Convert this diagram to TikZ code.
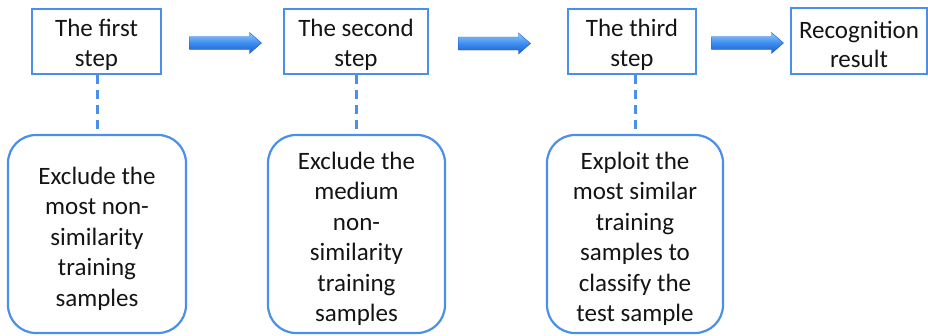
\documentclass[tikz,border=0pt]{standalone}
\usepackage{fontspec}
\setmainfont{Carlito}
\definecolor{bblue}{HTML}{4A8FEA}
\definecolor{alight}{HTML}{8CCBFF}
\definecolor{amid}{HTML}{3D8DF0}
\definecolor{adark}{HTML}{1F5CCC}
\definecolor{txt}{HTML}{141414}
\newcommand\topstrutA{\rule{0pt}{24pt}}
\newcommand\topstrutB{\rule{0pt}{27pt}}
\tikzset{
  x=1pt, y=-1pt,
  stepbox/.style={draw=bblue, line width=1.8pt, rectangle, align=center, inner sep=0pt,
     font=\fontsize{25}{29.5}\selectfont, text=txt},
  descbox/.style={draw=bblue, line width=2.2pt, rectangle, rounded corners=28pt, align=center,
     inner sep=0pt, minimum height=198pt, font=\fontsize{25}{30.5}\selectfont, text=txt},
  link/.style={draw=bblue, line width=3pt, dash pattern=on 9pt off 6pt},
  barrow/.pic={
    \shade[top color=alight, bottom color=adark, middle color=amid, draw=adark, line width=0.4pt]
      (-36,-6.5) -- (24,-6.5) -- (24,-10.5) -- (36,0) -- (24,10.5) -- (24,6.5) -- (-36,6.5) -- cycle;
  }
}
\begin{document}
\begin{tikzpicture}
\useasboundingbox (0,0) rectangle (928,335);
\node[stepbox, minimum width=129pt, minimum height=65pt] (s1) at (96.5,41.5) {\topstrutA The first\\step};
\node[stepbox, minimum width=144pt, minimum height=65pt] (s2) at (356,41.5) {\topstrutA The second\\step};
\node[stepbox, minimum width=128pt, minimum height=65pt] (s3) at (632,41.5) {\topstrutA The third\\step};
\node[stepbox, minimum width=136pt, minimum height=66pt] (s4) at (859,41) {\topstrutA Recognition\\result};
\node[descbox, minimum width=178pt] (d1) at (97,234) {\topstrutB Exclude the\\most non-\\similarity\\training\\samples};
\node[descbox, minimum width=177pt] (d2) at (356.5,234) {\topstrutB Exclude the\\medium\\non-\\similarity\\training\\samples};
\node[descbox, minimum width=176pt] (d3) at (635,234) {\topstrutB Exploit the\\most similar\\training\\samples to\\classify the\\test sample};
\draw[link] (s1.south -| d1.north) -- (d1.north);
\draw[link] (s2.south -| d2.north) -- (d2.north);
\draw[link] (s3.south -| d3.north) -- (d3.north);
\pic at (225.5,43) {barrow};
\pic at (494.5,43.5) {barrow};
\pic at (747.5,43) {barrow};
\end{tikzpicture}
\end{document}
